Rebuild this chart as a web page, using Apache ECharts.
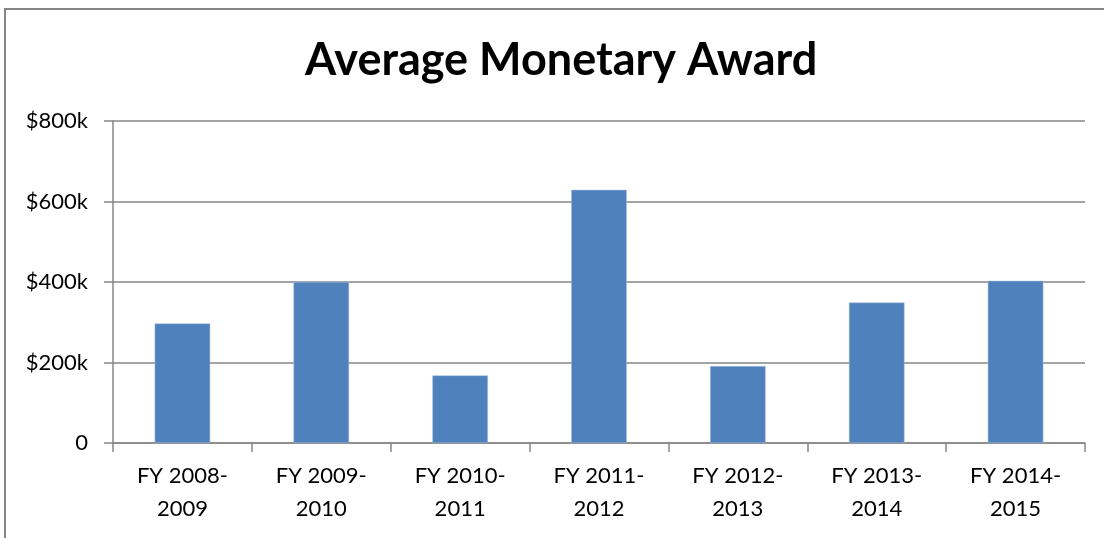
<!DOCTYPE html>
<html>
<head>
<meta charset="utf-8">
<script src="https://cdn.jsdelivr.net/npm/echarts@6/dist/echarts.min.js"></script>
<style>
  html, body { margin: 0; padding: 0; background: #fff; }
  #chart { width: 1104px; height: 538px; }
</style>
</head>
<body>
<div id="chart"></div>
<script>
// Fiscal years shown along the x axis
const categories = [
  'FY 2008-\n2009', 'FY 2009-\n2010', 'FY 2010-\n2011', 'FY 2011-\n2012',
  'FY 2012-\n2013', 'FY 2013-\n2014', 'FY 2014-\n2015'
];
// Average monetary award per fiscal year, in dollars
const awards = [297000, 400000, 168000, 629000, 191000, 349000, 403000];
// Value axis range and step
const yMin = 0;
const yMax = 800000;
const yStep = 200000;

const chart = echarts.init(document.getElementById('chart'));
const font = 'Lato, "Open Sans", sans-serif';

chart.setOption({
  animation: false,
  title: {
    text: 'Average Monetary Award',
    left: 300,
    top: 33,
    textStyle: { fontFamily: font, fontWeight: 'bold', fontSize: 45, color: '#000' }
  },
  graphic: [{
    type: 'rect',
    shape: { x: 5, y: 9, width: 1130, height: 560 },
    style: { fill: 'none', stroke: '#868686', lineWidth: 2 },
    silent: true
  }],
  grid: { left: 113, right: 19, top: 121, bottom: 95 },
  xAxis: {
    type: 'category',
    data: categories,
    axisLine: { lineStyle: { color: '#868686', width: 1.5 } },
    axisTick: { show: true, length: 9, lineStyle: { color: '#868686', width: 1.5 } },
    axisLabel: { fontFamily: font, fontSize: 22, color: '#000', lineHeight: 33, margin: 16 }
  },
  yAxis: {
    type: 'value',
    min: yMin,
    max: yMax,
    interval: yStep,
    axisLine: { show: true, lineStyle: { color: '#868686', width: 1.5 } },
    axisTick: { show: true, length: 9, lineStyle: { color: '#868686', width: 1.5 } },
    splitLine: { lineStyle: { color: '#868686', width: 1.5 } },
    axisLabel: {
      fontFamily: font, fontSize: 22, color: '#000', margin: 25,
      formatter: v => v === 0 ? '0' : '$' + (v / 1000) + 'k'
    }
  },
  series: [{
    type: 'bar',
    data: awards,
    barWidth: '40%',
    itemStyle: { color: '#4F81BD', borderColor: '#a9c0e0', borderWidth: 0.5 }
  }]
});
</script>
</body>
</html>
